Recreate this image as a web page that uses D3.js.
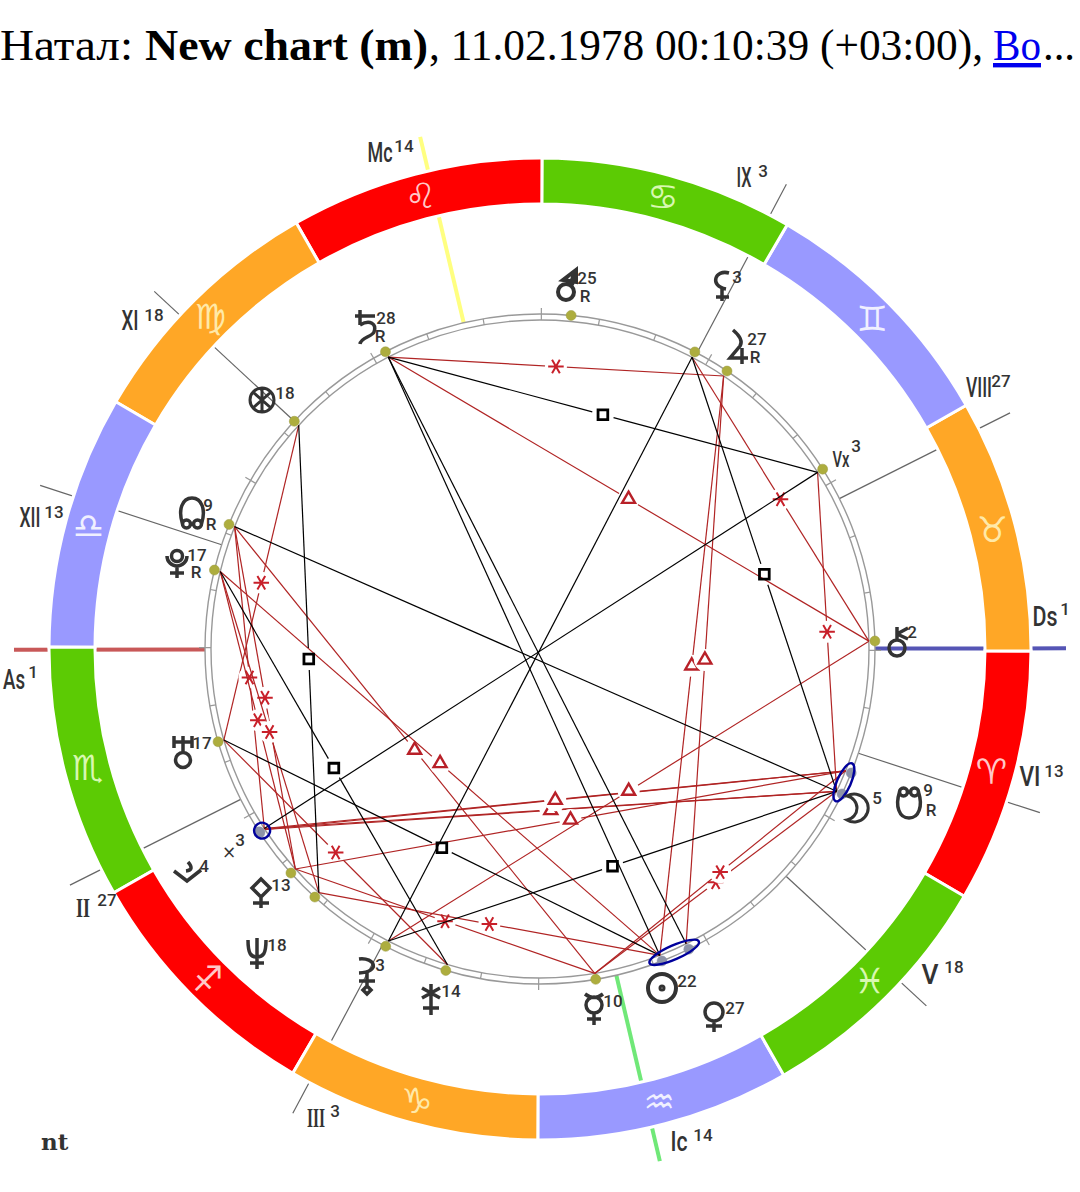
<!DOCTYPE html>
<html>
<head>
<meta charset="utf-8">
<script src="https://cdn.jsdelivr.net/npm/d3@7"></script>
<style>
  html, body { margin: 0; padding: 0; background: #fff; }
  svg { display: block; }
  .title { font-family: "Liberation Serif", serif; font-size: 44px; fill: #000; }
  .title .link { fill: #0000ee; text-decoration: underline; }
  .glyph { font-family: "DejaVu Sans"; fill: #333; text-anchor: middle; dominant-baseline: central; }
  .deg { font-family: Roboto, sans-serif; font-weight: 500; font-size: 17px; fill: #333; text-anchor: middle; dominant-baseline: central; }
  .house { font-family: Roboto, sans-serif; font-weight: 500; font-size: 28px; fill: #333; text-anchor: middle; dominant-baseline: central; }
</style>
</head>
<body>
<div id="chart"></div>
<script>
// signs, starting from Aries
const signNames = ['Aries', 'Taurus', 'Gemini', 'Cancer', 'Leo', 'Virgo', 'Libra', 'Scorpio', 'Sagittarius', 'Capricorn', 'Aquarius', 'Pisces'];
const signGlyphs = ['\u2648', '\u2649', '\u264A', '\u264B', '\u264C', '\u264D', '\u264E', '\u264F', '\u2650', '\u2651', '\u2652', '\u2653'];
const signElements = ['fire', 'earth', 'air', 'water', 'fire', 'earth', 'air', 'water', 'fire', 'earth', 'air', 'water'];

// house cusps, absolute longitude in degrees
const houseNames = ['As', 'II', 'III', 'Ic', 'V', 'VI', 'Ds', 'VIII', 'IX', 'Mc', 'XI', 'XII'];
const houseLons = [210.3, 236.9, 272.2, 313.4, 347.5, 12.1, 30.3, 56.9, 92.3, 133.4, 167.4, 192.1];
const houseDegs = [1, 27, 3, 14, 18, 13, 1, 27, 3, 14, 18, 13];

// bodies, absolute longitude in degrees
const bodyIds = ['mars', 'saturn', 'jupiter', 'lilith', 'vertex', 'chiron', 'moon', 'snode', 'venus', 'sun', 'mercury', 'juno', 'selena', 'neptune', 'pallas', 'sag4', 'cross', 'uranus', 'pluto', 'node', 'fortune'];
const bodyLons = [114.9, 147.7, 86.3, 92.7, 62.7, 31.6, 364.6, 368.5, 326.6, 321.6, 309.8, 283.9, 272.8, 258, 252.2, 243.5, 243.3, 226.3, 196.6, 188.4, 167.4];
const bodyDegs = [25, 28, 27, 3, 3, 2, 5, 9, 27, 22, 10, 14, 3, 18, 13, 4, 3, 17, 17, 9, 18];
const retrograde = ['mars', 'saturn', 'jupiter', 'snode', 'pluto', 'node'];

// aspects, as pairs of body ids
const oppositions = [['vertex', 'cross'], ['lilith', 'selena'], ['node', 'moon'], ['saturn', 'sun'], ['saturn', 'venus']];
const squares = [['saturn', 'vertex'], ['lilith', 'moon'], ['fortune', 'neptune'], ['pluto', 'juno'], ['uranus', 'sun'], ['selena', 'moon']];
const sextiles = [['saturn', 'jupiter'], ['lilith', 'chiron'], ['vertex', 'moon'], ['fortune', 'uranus'], ['node', 'cross'], ['node', 'pallas'], ['pluto', 'pallas'], ['pluto', 'neptune'], ['uranus', 'juno'], ['pallas', 'mercury'], ['neptune', 'sun'], ['mercury', 'moon'], ['mercury', 'snode']];
const trines = [['saturn', 'chiron'], ['jupiter', 'sun'], ['jupiter', 'venus'], ['node', 'mercury'], ['pluto', 'sun'], ['cross', 'moon'], ['sag4', 'moon'], ['cross', 'snode'], ['sag4', 'snode'], ['pallas', 'snode'], ['selena', 'chiron']];
const conjunctions = [['sun', 'venus'], ['moon', 'snode'], ['cross', 'sag4']];

// layout
const width = 1080;
const height = 1192;
const cx = 540;
const cy = 649;
const ringOuter = 491;
const ringInner = 445;
const circleOuter = 335;
const circleInner = 329;
const aspectR = 329;
const cuspOuter = 526;

const elementColor = { fire: '#ff0000', earth: '#ffa726', air: '#9999ff', water: '#5ccb04' };
const glyphColor = { fire: '#ffc8c8', earth: '#ffe9a8', air: '#f0f0ff', water: '#d8f8b0' };
const angleColor = { As: '#c85858', Ds: '#5555b5', Mc: '#ffff80', Ic: '#70e878' };
const redLine = '#b02424';
const redMark = '#c8202a';

// longitude to radians on screen, counter-clockwise, Taurus starts at 3 o'clock
const lonToAngle = d3.scaleLinear().domain([0, 360]).range([-30.23, 329.77].map(d => d * Math.PI / 180));
const polar = (lon, r) => {
  const a = lonToAngle(lon);
  return [cx + r * Math.cos(a), cy - r * Math.sin(a)];
};
const lonOf = id => bodyLons[bodyIds.indexOf(id)];

const svg = d3.select('#chart').append('svg').attr('width', width).attr('height', height);

// title, each run fitted to the width it takes in the reference
const title = svg.append('text').attr('class', 'title').attr('y', 60);
[
  { t: '\u041D\u0430\u0442\u0430\u043B:', x: 0, w: 133 },
  { t: 'New chart (m)', x: 145, w: 283, bold: true },
  { t: ', 11.02.1978 00:10:39 (+03:00),', x: 429, w: 554 },
  { t: '\u0412\u043E', x: 993, w: 48, link: true },
  { t: '...', x: 1043, w: 32 }
].forEach(r => {
  title.append('tspan').attr('x', r.x).attr('textLength', r.w).attr('lengthAdjust', 'spacingAndGlyphs')
    .attr('font-weight', r.bold ? 'bold' : null).attr('class', r.link ? 'link' : null).text(r.t);
});

svg.append('text').attr('x', 41).attr('y', 1150)
  .attr('font-family', 'DejaVu Serif').attr('font-weight', 'bold').attr('font-size', 23).attr('fill', '#333').text('nt');

// house cusps, under the ring
const angleHouses = Object.keys(angleColor);
svg.append('g').selectAll('line').data(houseNames).join('line')
  .attr('x1', (d, i) => polar(houseLons[i], circleOuter)[0])
  .attr('y1', (d, i) => polar(houseLons[i], circleOuter)[1])
  .attr('x2', (d, i) => polar(houseLons[i], cuspOuter)[0])
  .attr('y2', (d, i) => polar(houseLons[i], cuspOuter)[1])
  .attr('stroke', d => angleColor[d] || '#666')
  .attr('stroke-width', d => angleHouses.includes(d) ? 4 : 1.2);

// sign ring
const arc = d3.arc().innerRadius(ringInner).outerRadius(ringOuter);
const ring = svg.append('g').attr('transform', `translate(${cx},${cy})`);
ring.selectAll('path').data(signNames).join('path')
  .attr('d', (d, i) => arc({
    startAngle: Math.PI / 2 - lonToAngle(i * 30),
    endAngle: Math.PI / 2 - lonToAngle(i * 30 + 30)
  }))
  .attr('fill', (d, i) => elementColor[signElements[i]])
  .attr('stroke', '#fff').attr('stroke-width', 3);

svg.append('g').selectAll('text').data(signGlyphs).join('text')
  .attr('class', 'glyph')
  .attr('x', (d, i) => polar(i * 30 + 15, (ringInner + ringOuter) / 2)[0])
  .attr('y', (d, i) => polar(i * 30 + 15, (ringInner + ringOuter) / 2)[1])
  .attr('font-size', 35)
  .style('fill', (d, i) => glyphColor[signElements[i]])
  .text(d => d + '\uFE0E');

// inner degree circles and ticks
svg.append('g').selectAll('circle').data([circleOuter, circleInner]).join('circle')
  .attr('cx', cx).attr('cy', cy).attr('r', d => d)
  .attr('fill', 'none').attr('stroke', '#999').attr('stroke-width', 1.4);

svg.append('g').selectAll('line').data(d3.range(0, 360, 10)).join('line')
  .attr('x1', d => polar(d, circleInner)[0])
  .attr('y1', d => polar(d, circleInner)[1])
  .attr('x2', d => polar(d, d % 30 === 0 ? circleOuter + 6 : circleOuter)[0])
  .attr('y2', d => polar(d, d % 30 === 0 ? circleOuter + 6 : circleOuter)[1])
  .attr('stroke', '#999').attr('stroke-width', 1.2);

// body dots, grey when inside a conjunction
const conjunct = conjunctions.flat();
svg.append('g').selectAll('circle').data(bodyIds).join('circle')
  .attr('cx', (d, i) => polar(bodyLons[i], circleOuter)[0])
  .attr('cy', (d, i) => polar(bodyLons[i], circleOuter)[1])
  .attr('r', 5)
  .attr('fill', d => conjunct.includes(d) ? '#8d93a8' : '#adad3e')
  .attr('stroke', d => conjunct.includes(d) ? '#8d93a8' : '#9a9a40').attr('stroke-width', 0.5);

// one aspect line, split round its marker
function drawAspect(g, pair, opt) {
  const p1 = polar(lonOf(pair[0]), aspectR);
  const p2 = polar(lonOf(pair[1]), aspectR);
  const mx = (p1[0] + p2[0]) / 2;
  const my = (p1[1] + p2[1]) / 2;
  const len = Math.hypot(p2[0] - p1[0], p2[1] - p1[1]);
  const ux = (p2[0] - p1[0]) / len;
  const uy = (p2[1] - p1[1]) / len;
  if (!opt.symbol) {
    g.append('line').attr('x1', p1[0]).attr('y1', p1[1]).attr('x2', p2[0]).attr('y2', p2[1])
      .attr('stroke', opt.line).attr('stroke-width', opt.lineWidth);
    return;
  }
  if (opt.mask) {
    g.append('line').attr('x1', p1[0]).attr('y1', p1[1]).attr('x2', p2[0]).attr('y2', p2[1])
      .attr('stroke', opt.line).attr('stroke-width', opt.lineWidth);
    g.append('circle').attr('cx', mx).attr('cy', my).attr('r', 11).attr('fill', '#fff');
  } else {
    [[p1, [mx - ux * 11, my - uy * 11]], [[mx + ux * 11, my + uy * 11], p2]].forEach(s => {
      g.append('line').attr('x1', s[0][0]).attr('y1', s[0][1]).attr('x2', s[1][0]).attr('y2', s[1][1])
        .attr('stroke', opt.line).attr('stroke-width', opt.lineWidth);
    });
  }
  g.append('path')
    .attr('d', d3.symbol().type(opt.symbol).size(opt.size)())
    .attr('transform', `translate(${mx},${my}) rotate(${opt.rotate || 0})`)
    .attr('fill', 'none').attr('stroke', opt.mark).attr('stroke-width', opt.markWidth);
}

const aspects = svg.append('g');
sextiles.forEach(p => drawAspect(aspects, p, { symbol: d3.symbolAsterisk, size: 170, rotate: 90, line: redLine, lineWidth: 1.2, mark: redMark, markWidth: 2, mask: true }));
trines.forEach(p => drawAspect(aspects, p, { symbol: d3.symbolTriangle2, size: 120, line: redLine, lineWidth: 1.2, mark: '#b82028', markWidth: 2.4, mask: true }));
oppositions.forEach(p => drawAspect(aspects, p, { line: '#000', lineWidth: 1.2 }));
squares.forEach(p => drawAspect(aspects, p, { symbol: d3.symbolSquare2, size: 120, line: '#000', lineWidth: 1.2, mark: '#000', markWidth: 2.8 }));

// conjunction ellipses
svg.append('g').selectAll('ellipse').data(conjunctions).join('ellipse')
  .each(function (d) {
    const p1 = polar(lonOf(d[0]), circleOuter - 3);
    const p2 = polar(lonOf(d[1]), circleOuter - 3);
    const dist = Math.hypot(p2[0] - p1[0], p2[1] - p1[1]);
    const tilt = Math.atan2(p2[1] - p1[1], p2[0] - p1[0]) * 180 / Math.PI;
    d3.select(this)
      .attr('rx', Math.max(8, dist - 2))
      .attr('ry', dist < 8 ? 8 : 7)
      .attr('transform', `translate(${(p1[0] + p2[0]) / 2},${(p1[1] + p2[1]) / 2}) rotate(${tilt})`);
  })
  .attr('fill', 'none').attr('stroke', '#00009c').attr('stroke-width', 2.4);

// body symbols, drawn round their centre
const dot = (x, y, r) => `M${x + r},${y}A${r},${r} 0 1 1 ${x - r},${y}A${r},${r} 0 1 1 ${x + r},${y}`;
const glyphPaths = {
  mars: `${dot(-2, 3, 8)}M3,-3L8,-12M8,-19L8,-7L-5,-9ZM6,-15L4,-9`,
  saturn: 'M-7,-17L-7,-2M-12,-11L8,-11M-7,-2C3,-8 10,-3 7,5C5,10 -6,10 -7,17',
  jupiter: 'M-6,-19C0,-14 4,-8 1,-3L-9,9L9,9M3,-1L3,15',
  lilith: 'M6,-13C-8,-17 -14,0 3,3M-1,3L-1,15M-7,11L6,11',
  chiron: `${dot(0, 6, 8)}M0,-15L0,-2M0,-8L11,-14M0,-8L11,-3`,
  moon: 'M-10,-12A14,14 0 1 1 -10,12A12.2,12.2 0 0 0 -10,-12Z',
  snode: `${dot(-5.5, -10, 4)}${dot(5.5, -10, 4)}M-9.5,-10C-14,4 -10,16 0,16C10,16 14,4 9.5,-10`,
  node: `${dot(-5.5, 10, 4)}${dot(5.5, 10, 4)}M-9.5,10C-14,-4 -10,-16 0,-16C10,-16 14,-4 9.5,10`,
  venus: `${dot(0, -3, 9)}M0,6L0,17M-8,11L8,11`,
  sun: `${dot(0, 0, 14)}${dot(0, 0, 1.5)}`,
  mercury: `${dot(0, -4, 8)}M-9,-15Q0,-8 9,-15M0,4L0,16M-7,10L7,10`,
  juno: 'M1,-15L1,16M-8,-11L10,-1M-8,-1L10,-11M-7,9L9,9',
  selena: 'M-8,-16C8,-18 14,-3 -8,-2M0,-2L0,11M-8,6L8,6M0,11L4,15L0,19L-4,15Z',
  neptune: 'M-9,-12C-9,2 -6,5 0,5C6,5 9,2 9,-12M0,-14L0,17M-7,11L7,11',
  pallas: 'M0,-13L9,-4L0,5L-9,-4ZM0,5L0,16M-8,11L8,11',
  sag4: 'M-14,-2L-1,8L13,-3M-2,-2Q7,-3 0,-11',
  uranus: `M-9,-16L-9,-4M9,-16L9,-4M-9,-10L9,-10M0,-16L0,0${dot(0, 8, 7.5)}`,
  pluto: `${dot(0, -7, 5.5)}M-10,-7A10,10 0 0 0 10,-7M0,3L0,15M-7,10L7,10`,
  fortune: `${dot(0, 0, 12)}M0,-12L0,12M-9,-8L9,8M-9,8L9,-8`
};

// label positions, by hand as in the reference
const glyphPlace = {
  mars: { g: [568, 289], deg: [587, 278], r: [585, 296] },
  saturn: { g: [367, 327], deg: [386, 318], r: [380, 336] },
  jupiter: { g: [739, 349], deg: [757, 339], r: [755, 357] },
  lilith: { g: [723, 286], deg: [737, 277] },
  vertex: { deg: [856, 446] },
  chiron: { g: [897, 642], deg: [912, 632] },
  moon: { g: [857, 808], deg: [877, 798] },
  snode: { g: [909, 802], deg: [928, 790], r: [931, 810] },
  venus: { g: [714, 1015], deg: [735, 1008] },
  sun: { g: [662, 988], deg: [687, 981] },
  mercury: { g: [594, 1009], deg: [613, 1001] },
  juno: { g: [430, 999], deg: [451, 991] },
  selena: { g: [367, 975], deg: [380, 965] },
  neptune: { g: [257, 952], deg: [277, 945] },
  pallas: { g: [261, 892], deg: [281, 885] },
  sag4: { g: [188, 873], deg: [204, 866] },
  cross: { deg: [240, 840] },
  uranus: { g: [183, 752], deg: [202, 743] },
  pluto: { g: [177, 563], deg: [197, 555], r: [196, 572] },
  node: { g: [192, 514], deg: [208, 505], r: [211, 524] },
  fortune: { g: [262, 400], deg: [285, 393] }
};

const labels = svg.append('g');
bodyIds.forEach((id, i) => {
  const pl = glyphPlace[id];
  if (pl.g) {
    labels.append('path').attr('d', glyphPaths[id])
      .attr('transform', `translate(${pl.g[0]},${pl.g[1]})`)
      .attr('fill', 'none').attr('stroke', '#333')
      .attr('stroke-width', id === 'sun' || id === 'mars' ? 4 : id === 'fortune' || id === 'moon' ? 3 : 3.5);
  }
  labels.append('text').attr('class', 'deg').attr('x', pl.deg[0]).attr('y', pl.deg[1]).text(bodyDegs[i]);
  if (retrograde.includes(id)) {
    labels.append('text').attr('class', 'deg').attr('x', pl.r[0]).attr('y', pl.r[1]).text('R');
  }
});
labels.append('text').attr('class', 'house').attr('x', 841).attr('y', 459).style('font-size', '22px')
  .attr('textLength', 17).attr('lengthAdjust', 'spacingAndGlyphs').text('Vx');
labels.append('text').attr('class', 'glyph').attr('x', 229).attr('y', 852).attr('font-size', 17).text('\u00D7');

// house labels: name centre, degree centre, squeezed width of the name
const housePlace = {
  As: [[14, 679], [33, 672], 22], II: [[83, 907], [107, 900], 14], III: [[316, 1117], [335, 1111], 18],
  Ic: [[679, 1141], [703, 1135], 17], V: [[930, 974], [954, 967], 17], VI: [[1030, 776], [1054, 771], 21],
  Ds: [[1045, 616], [1065, 609], 25], VIII: [[979, 387], [1001, 381], 26], IX: [[744, 177], [763, 171], 15],
  Mc: [[380, 152], [404, 146], 25], XI: [[130, 320], [154, 315], 17], XII: [[30, 517], [54, 512], 21]
};
const houseLabels = svg.append('g');
houseNames.forEach((n, i) => {
  const pl = housePlace[n];
  const serif = n === 'II' || n === 'III';
  houseLabels.append('text').attr('class', 'house').attr('x', pl[0][0]).attr('y', pl[0][1])
    .attr('textLength', pl[2]).attr('lengthAdjust', 'spacingAndGlyphs')
    .style('font-family', serif ? '"Liberation Serif", serif' : null)
    .style('font-weight', serif ? 700 : null)
    .text(n);
  houseLabels.append('text').attr('class', 'deg').attr('x', pl[1][0]).attr('y', pl[1][1]).text(houseDegs[i]);
});
</script>
</body>
</html>
